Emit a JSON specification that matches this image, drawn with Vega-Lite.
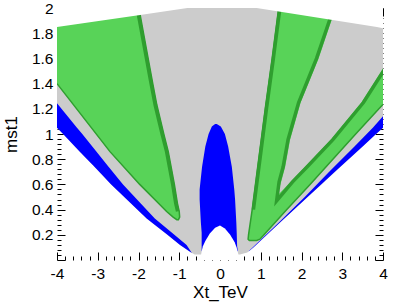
{
  "$schema": "https://vega.github.io/schema/vega-lite/v6.json",
  "width": 326,
  "height": 252,
  "autosize": {"type": "none"},
  "padding": {"left": 57, "top": 8, "right": 16, "bottom": 44},
  "background": "white",
  "config": {
    "view": {"stroke": null},
    "axis": {"domain": false, "tickColor": "black", "tickWidth": 1, "grid": false, "labelFont": "Liberation Sans", "titleFont": "Liberation Sans", "labelColor": "black", "titleColor": "black", "labelOverlap": false, "labelFlush": false, "titleFontWeight": "normal", "zindex": 1}
  },
  "datasets": {
    "grayBase": [
      {"y": 0.044, "xl": -0.62, "xr": 0.49},
      {"y": 0.06, "xl": -0.71, "xr": 0.67},
      {"y": 0.12, "xl": -0.98, "xr": 0.87},
      {"y": 0.2, "xl": -1.29, "xr": 1.14},
      {"y": 0.33, "xl": -1.80, "xr": 1.58},
      {"y": 0.45, "xl": -2.19, "xr": 1.98},
      {"y": 0.6, "xl": -2.67, "xr": 2.49},
      {"y": 0.75, "xl": -3.11, "xr": 2.99},
      {"y": 0.86, "xl": -3.44, "xr": 3.36},
      {"y": 1.0, "xl": -3.85, "xr": 3.83},
      {"y": 1.05, "xl": -4, "xr": 4},
      {"y": 2.0, "xl": -4, "xr": 4}
    ],
    "green": [
      {"s": "L", "y": 0.32, "xl": -1.06, "xr": -1.02},
      {"s": "L", "y": 0.34, "xl": -1.15, "xr": -0.99},
      {"s": "L", "y": 0.385, "xl": -1.31, "xr": -1.0},
      {"s": "L", "y": 0.45, "xl": -1.51, "xr": -1.045},
      {"s": "L", "y": 0.6, "xl": -1.97, "xr": -1.12},
      {"s": "L", "y": 0.86, "xl": -2.70, "xr": -1.27},
      {"s": "L", "y": 1.0, "xl": -3.04, "xr": -1.38},
      {"s": "L", "y": 1.23, "xl": -3.59, "xr": -1.55},
      {"s": "L", "y": 1.40, "xl": -4, "xr": -1.65},
      {"s": "L", "y": 1.945, "xl": -4, "xr": -1.96},
      {"s": "L", "y": 2.0, "xl": -4, "xr": -1.99},
      {"s": "R", "y": 0.155, "xl": 0.72, "xr": 0.9},
      {"s": "R", "y": 0.165, "xl": 0.69, "xr": 0.98},
      {"s": "R", "y": 0.2, "xl": 0.70, "xr": 1.08},
      {"s": "R", "y": 0.4, "xl": 0.79, "xr": 1.64},
      {"s": "R", "y": 0.6, "xl": 0.87, "xr": 2.21},
      {"s": "R", "y": 0.8, "xl": 0.95, "xr": 2.77},
      {"s": "R", "y": 1.0, "xl": 1.03, "xr": 3.33},
      {"s": "R", "y": 1.2, "xl": 1.11, "xr": 3.90},
      {"s": "R", "y": 1.235, "xl": 1.12, "xr": 4.0},
      {"s": "R", "y": 1.6, "xl": 1.28, "xr": 4},
      {"s": "R", "y": 2.0, "xl": 1.44, "xr": 4}
    ],
    "innerGray": [
      {"y": 0.506, "xl": 1.39, "xr": 1.39},
      {"y": 0.62, "xl": 1.5, "xr": 1.73},
      {"y": 0.74, "xl": 1.6, "xr": 2.09},
      {"y": 0.955, "xl": 1.72, "xr": 2.72},
      {"y": 1.25, "xl": 1.98, "xr": 3.47},
      {"y": 1.52, "xl": 2.32, "xr": 4.0},
      {"y": 1.6, "xl": 2.42, "xr": 4},
      {"y": 1.905, "xl": 2.74, "xr": 4},
      {"y": 2.0, "xl": 2.85, "xr": 4}
    ],
    "blue": [
      {"s": "BL", "y": 0.055, "xl": -0.69, "xr": -0.69},
      {"s": "BL", "y": 0.12, "xl": -0.98, "xr": -0.82},
      {"s": "BL", "y": 0.2, "xl": -1.29, "xr": -1.12},
      {"s": "BL", "y": 0.33, "xl": -1.80, "xr": -1.60},
      {"s": "BL", "y": 0.45, "xl": -2.19, "xr": -1.95},
      {"s": "BL", "y": 0.6, "xl": -2.67, "xr": -2.38},
      {"s": "BL", "y": 0.75, "xl": -3.11, "xr": -2.76},
      {"s": "BL", "y": 0.86, "xl": -3.44, "xr": -3.03},
      {"s": "BL", "y": 1.0, "xl": -3.85, "xr": -3.38},
      {"s": "BL", "y": 1.05, "xl": -4, "xr": -3.51},
      {"s": "BL", "y": 1.245, "xl": -4, "xr": -4},
      {"s": "BR", "y": 0.07, "xl": 0.70, "xr": 0.71},
      {"s": "BR", "y": 0.1, "xl": 0.80, "xr": 0.82},
      {"s": "BR", "y": 0.3, "xl": 1.45, "xr": 1.48},
      {"s": "BR", "y": 0.5, "xl": 2.08, "xr": 2.15},
      {"s": "BR", "y": 0.7, "xl": 2.68, "xr": 2.82},
      {"s": "BR", "y": 0.9, "xl": 3.30, "xr": 3.50},
      {"s": "BR", "y": 1.0, "xl": 3.60, "xr": 3.83},
      {"s": "BR", "y": 1.05, "xl": 3.75, "xr": 4},
      {"s": "BR", "y": 1.14, "xl": 4, "xr": 4},
      {"s": "BC", "y": 0.07, "xl": -0.45, "xr": 0.44},
      {"s": "BC", "y": 0.11, "xl": -0.45, "xr": 0.42},
      {"s": "BC", "y": 0.216, "xl": -0.45, "xr": 0.41},
      {"s": "BC", "y": 0.3, "xl": -0.47, "xr": 0.40},
      {"s": "BC", "y": 0.48, "xl": -0.5, "xr": 0.37},
      {"s": "BC", "y": 0.56, "xl": -0.5, "xr": 0.35},
      {"s": "BC", "y": 0.74, "xl": -0.44, "xr": 0.29},
      {"s": "BC", "y": 0.9, "xl": -0.36, "xr": 0.2},
      {"s": "BC", "y": 1.0, "xl": -0.28, "xr": 0.12},
      {"s": "BC", "y": 1.06, "xl": -0.2, "xr": 0.02},
      {"s": "BC", "y": 1.08, "xl": -0.12, "xr": -0.08}
    ],
    "notch": [
      {"x": -0.47, "top": 0.03},
      {"x": -0.45, "top": 0.07},
      {"x": -0.42, "top": 0.11},
      {"x": -0.36, "top": 0.15},
      {"x": -0.25, "top": 0.21},
      {"x": -0.12, "top": 0.255},
      {"x": 0, "top": 0.274},
      {"x": 0.12, "top": 0.25},
      {"x": 0.25, "top": 0.2},
      {"x": 0.36, "top": 0.14},
      {"x": 0.41, "top": 0.097},
      {"x": 0.44, "top": 0.06},
      {"x": 0.46, "top": 0.03}
    ],
    "topCut": [
      {"x": -4, "top": 1.85},
      {"x": -1.96, "top": 1.945},
      {"x": -0.8, "top": 2.0},
      {"x": 0.9, "top": 2.0},
      {"x": 3.85, "top": 1.85},
      {"x": 4, "top": 1.84}
    ],
    "thinEdges": [
      {"s": "a", "x": -4, "y": 1.40},
      {"s": "a", "x": -2.70, "y": 0.86},
      {"s": "a", "x": -1.97, "y": 0.6},
      {"s": "a", "x": -1.51, "y": 0.45},
      {"s": "a", "x": -1.31, "y": 0.385},
      {"s": "a", "x": -1.15, "y": 0.34},
      {"s": "a", "x": -1.06, "y": 0.32},
      {"s": "a", "x": -1.02, "y": 0.32},
      {"s": "a", "x": -0.99, "y": 0.34},
      {"s": "a", "x": -1.0, "y": 0.385},
      {"s": "a", "x": -1.045, "y": 0.45},
      {"s": "a", "x": -1.12, "y": 0.6},
      {"s": "a", "x": -1.27, "y": 0.86},
      {"s": "a", "x": -1.38, "y": 1.0},
      {"s": "a", "x": -1.55, "y": 1.23},
      {"s": "a", "x": -1.65, "y": 1.40},
      {"s": "a", "x": -1.96, "y": 1.945},
      {"s": "a", "x": -1.99, "y": 2.0},
      {"s": "b", "x": 1.44, "y": 2.0},
      {"s": "b", "x": 1.28, "y": 1.6},
      {"s": "b", "x": 1.11, "y": 1.2},
      {"s": "b", "x": 1.03, "y": 1.0},
      {"s": "b", "x": 0.95, "y": 0.8},
      {"s": "b", "x": 0.87, "y": 0.6},
      {"s": "b", "x": 0.79, "y": 0.4},
      {"s": "b", "x": 0.70, "y": 0.2},
      {"s": "b", "x": 0.69, "y": 0.165},
      {"s": "b", "x": 0.72, "y": 0.155},
      {"s": "b", "x": 0.9, "y": 0.155},
      {"s": "b", "x": 0.98, "y": 0.165},
      {"s": "b", "x": 1.08, "y": 0.2},
      {"s": "b", "x": 1.64, "y": 0.4},
      {"s": "b", "x": 2.21, "y": 0.6},
      {"s": "b", "x": 2.77, "y": 0.8},
      {"s": "b", "x": 3.33, "y": 1.0},
      {"s": "b", "x": 3.90, "y": 1.2},
      {"s": "b", "x": 4.0, "y": 1.235}
    ],
    "thickEdges": [
      {"s": "d", "x": -2.03, "y": 2.0},
      {"s": "d", "x": -2.0, "y": 1.945},
      {"s": "d", "x": -1.69, "y": 1.40},
      {"s": "d", "x": -1.59, "y": 1.23},
      {"s": "d", "x": -1.42, "y": 1.0},
      {"s": "d", "x": -1.31, "y": 0.86},
      {"s": "d", "x": -1.16, "y": 0.6},
      {"s": "d", "x": -1.085, "y": 0.45},
      {"s": "d", "x": -1.04, "y": 0.385},
      {"s": "e", "x": 1.47, "y": 2.0},
      {"s": "e", "x": 1.31, "y": 1.6},
      {"s": "e", "x": 1.14, "y": 1.2},
      {"s": "e", "x": 1.06, "y": 1.0},
      {"s": "e", "x": 0.98, "y": 0.8},
      {"s": "e", "x": 0.90, "y": 0.6},
      {"s": "e", "x": 0.82, "y": 0.4},
      {"s": "f", "x": 2.80, "y": 2.0},
      {"s": "f", "x": 2.69, "y": 1.905},
      {"s": "f", "x": 2.37, "y": 1.6},
      {"s": "f", "x": 2.27, "y": 1.52},
      {"s": "f", "x": 1.93, "y": 1.25},
      {"s": "f", "x": 1.67, "y": 0.955},
      {"s": "f", "x": 1.55, "y": 0.74},
      {"s": "f", "x": 1.45, "y": 0.62},
      {"s": "f", "x": 1.39, "y": 0.47},
      {"s": "f", "x": 1.78, "y": 0.62},
      {"s": "f", "x": 2.14, "y": 0.74},
      {"s": "f", "x": 2.77, "y": 0.955},
      {"s": "f", "x": 3.52, "y": 1.25},
      {"s": "f", "x": 4.05, "y": 1.52}
    ]
  },
  "resolve": {"axis": {"x": "independent", "y": "independent"}},
  "layer": [
    {
      "data": {"name": "grayBase"},
      "mark": {"type": "area", "orient": "horizontal", "color": "#cccccc", "clip": true},
      "encoding": {
        "y": {"field": "y", "type": "quantitative", "scale": {"domain": [0, 2], "nice": false, "zero": false},
          "axis": {"orient": "left", "title": "mst1", "offset": -8, "tickSize": 8,
            "values": [0,0.2,0.4,0.6,0.8,1,1.2,1.4,1.6,1.8,2],
            "labelExpr": "datum.value == 0 ? '' : '' + datum.value",
            "labelPadding": 4, "labelFontSize": 15.5, "titleFontSize": 17,
            "titleX": -49, "titleY": 126, "titleBaseline": "alphabetic", "titleAngle": 270}},
        "x": {"field": "xl", "type": "quantitative", "scale": {"domain": [-4, 4], "nice": false, "zero": false},
          "axis": {"orient": "bottom", "title": "Xt_TeV", "offset": -8, "tickSize": 8,
            "values": [-4,-3,-2,-1,0,1,2,3,4],
            "labelExpr": "'' + datum.value",
            "labelPadding": 6, "labelFontSize": 15.5, "titleFontSize": 17,
            "titleX": 163, "titleY": 45, "titleBaseline": "alphabetic"}},
        "x2": {"field": "xr"}
      }
    },
    {
      "data": {"name": "green"},
      "mark": {"type": "area", "orient": "horizontal", "color": "#58d358", "clip": true},
      "encoding": {
        "y": {"field": "y", "type": "quantitative", "scale": {"domain": [0, 2], "nice": false, "zero": false},
          "axis": {"orient": "left", "title": null, "labels": false, "offset": -4, "tickSize": 4,
            "values": [0.04,0.08,0.12,0.16,0.24,0.28,0.32,0.36,0.44,0.48,0.52,0.56,0.64,0.68,0.72,0.76,0.84,0.88,0.92,0.96,1.04,1.08,1.12,1.16,1.24,1.28,1.32,1.36,1.44,1.48,1.52,1.56,1.64,1.68,1.72,1.76,1.84,1.88,1.92,1.96]}},
        "x": {"field": "xl", "type": "quantitative", "scale": {"domain": [-4, 4], "nice": false, "zero": false},
          "axis": {"orient": "bottom", "title": null, "labels": false, "offset": -4, "tickSize": 4,
            "values": [-3.8,-3.6,-3.4,-3.2,-2.8,-2.6,-2.4,-2.2,-1.8,-1.6,-1.4,-1.2,-0.8,-0.6,-0.4,-0.2,0.2,0.4,0.6,0.8,1.2,1.4,1.6,1.8,2.2,2.4,2.6,2.8,3.2,3.4,3.6,3.8]}},
        "x2": {"field": "xr"},
        "detail": {"field": "s"}
      }
    },
    {
      "data": {"name": "innerGray"},
      "mark": {"type": "area", "orient": "horizontal", "color": "#cccccc", "clip": true},
      "encoding": {
        "y": {"field": "y", "type": "quantitative", "scale": {"domain": [0, 2], "nice": false, "zero": false},
          "axis": {"orient": "right", "title": null, "labels": false, "offset": -8, "tickSize": 8,
            "values": [0,0.2,0.4,0.6,0.8,1,1.2,1.4,1.6,1.8,2]}},
        "x": {"field": "xl", "type": "quantitative", "scale": {"domain": [-4, 4], "nice": false, "zero": false},
          "axis": {"orient": "top", "title": null, "labels": false, "offset": -8, "tickSize": 8,
            "values": [-4,-3,-2,-1,0,1,2,3,4]}},
        "x2": {"field": "xr"}
      }
    },
    {
      "data": {"name": "thinEdges"},
      "mark": {"type": "line", "color": "#2f9e2f", "strokeWidth": 1.5, "clip": true},
      "encoding": {
        "x": {"field": "x", "type": "quantitative", "scale": {"domain": [-4, 4], "nice": false, "zero": false},
          "axis": {"orient": "top", "title": null, "labels": false, "offset": -4, "tickSize": 4,
            "values": [-3.8,-3.6,-3.4,-3.2,-2.8,-2.6,-2.4,-2.2,-1.8,-1.6,-1.4,-1.2,-0.8,-0.6,-0.4,-0.2,0.2,0.4,0.6,0.8,1.2,1.4,1.6,1.8,2.2,2.4,2.6,2.8,3.2,3.4,3.6,3.8]}},
        "y": {"field": "y", "type": "quantitative", "scale": {"domain": [0, 2], "nice": false, "zero": false},
          "axis": {"orient": "right", "title": null, "labels": false, "offset": -4, "tickSize": 4,
            "values": [0.04,0.08,0.12,0.16,0.24,0.28,0.32,0.36,0.44,0.48,0.52,0.56,0.64,0.68,0.72,0.76,0.84,0.88,0.92,0.96,1.04,1.08,1.12,1.16,1.24,1.28,1.32,1.36,1.44,1.48,1.52,1.56,1.64,1.68,1.72,1.76,1.84,1.88,1.92,1.96]}},
        "detail": {"field": "s"},
        "order": {"value": null}
      }
    },
    {
      "data": {"name": "thickEdges"},
      "mark": {"type": "line", "color": "#2f9e2f", "strokeWidth": 3.5, "clip": true},
      "encoding": {
        "x": {"field": "x", "type": "quantitative", "scale": {"domain": [-4, 4], "nice": false, "zero": false}, "axis": null},
        "y": {"field": "y", "type": "quantitative", "scale": {"domain": [0, 2], "nice": false, "zero": false}, "axis": null},
        "detail": {"field": "s"},
        "order": {"value": null}
      }
    },
    {
      "data": {"name": "blue"},
      "mark": {"type": "area", "orient": "horizontal", "color": "#0000ff", "clip": true},
      "encoding": {
        "y": {"field": "y", "type": "quantitative", "scale": {"domain": [0, 2], "nice": false, "zero": false}, "axis": null},
        "x": {"field": "xl", "type": "quantitative", "scale": {"domain": [-4, 4], "nice": false, "zero": false}, "axis": null},
        "x2": {"field": "xr"},
        "detail": {"field": "s"}
      }
    },
    {
      "data": {"name": "notch"},
      "mark": {"type": "area", "color": "#ffffff", "clip": true},
      "encoding": {
        "x": {"field": "x", "type": "quantitative", "scale": {"domain": [-4, 4], "nice": false, "zero": false}, "axis": null},
        "y": {"field": "top", "type": "quantitative", "scale": {"domain": [0, 2], "nice": false, "zero": false}, "axis": null},
        "y2": {"datum": 0}
      }
    },
    {
      "data": {"name": "topCut"},
      "mark": {"type": "area", "color": "#ffffff", "clip": true},
      "encoding": {
        "x": {"field": "x", "type": "quantitative", "scale": {"domain": [-4, 4], "nice": false, "zero": false}, "axis": null},
        "y": {"field": "top", "type": "quantitative", "scale": {"domain": [0, 2], "nice": false, "zero": false}, "axis": null},
        "y2": {"datum": 2}
      }
    },
    {
      "mark": {"type": "rect", "fill": null, "stroke": "black", "strokeWidth": 1},
      "encoding": {
        "x": {"datum": -4, "type": "quantitative", "scale": {"domain": [-4, 4], "nice": false, "zero": false}, "axis": null},
        "x2": {"datum": 4},
        "y": {"datum": 0, "type": "quantitative", "scale": {"domain": [0, 2], "nice": false, "zero": false}, "axis": null},
        "y2": {"datum": 2}
      }
    }
  ]
}
